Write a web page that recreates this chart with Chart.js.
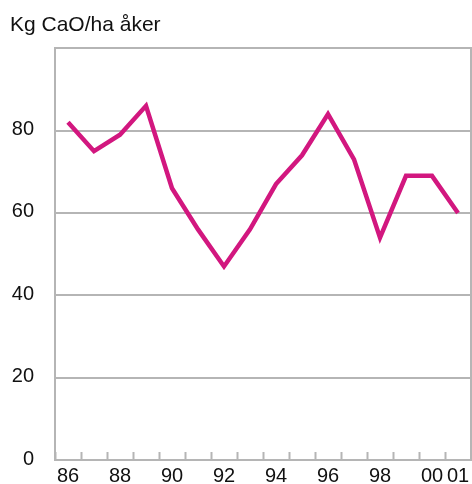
<!DOCTYPE html>
<html>
<head>
<meta charset="utf-8">
<script src="https://cdn.jsdelivr.net/npm/chart.js@4/dist/chart.umd.min.js"></script>
<style>
  html, body { margin: 0; padding: 0; background: #fff; }
  #wrap { width: 472px; height: 484px; }
</style>
</head>
<body>
<div id="wrap"><canvas id="limeChart"></canvas></div>
<script>
// Kalk, kg CaO per ha åker, 1986-2001
const years = ['86', '87', '88', '89', '90', '91', '92', '93', '94', '95', '96', '97', '98', '99', '00', '01'];
const shownYears = ['86', '88', '90', '92', '94', '96', '98', '00', '01'];
const kgCaO = [82, 75, 79, 86, 66, 56, 47, 56, 67, 74, 84, 73, 54, 69, 69, 60];
const yTicks = [0, 20, 40, 60, 80, 100];

const gray = '#b5b5b5';
const font = { family: '"Liberation Sans", Arial, Helvetica, sans-serif', size: 20, weight: 'normal' };

const ctx = document.getElementById('limeChart').getContext('2d');
new Chart(ctx, {
    type: 'line',
    data: {
        labels: years,
        datasets: [{
            data: kgCaO,
            borderColor: '#d2177f',
            borderWidth: 4.5,
            pointRadius: 0,
            tension: 0,
            fill: false
        }]
    },
    options: {
        responsive: true,
        maintainAspectRatio: false,
        animation: false,
        layout: { padding: { left: 10, right: 0, top: 0, bottom: 0 } },
        plugins: {
            legend: { display: false },
            tooltip: { enabled: false },
            title: {
                display: true,
                text: 'Kg CaO/ha åker',
                align: 'start',
                color: '#111',
                font: { family: font.family, size: 21, weight: 'normal' },
                padding: { top: 13, bottom: 10 }
            }
        },
        scales: {
            x: {
                offset: true,
                grid: {
                    offset: true,
                    drawOnChartArea: false,
                    drawTicks: true,
                    tickLength: -8,
                    tickWidth: 2,
                    tickColor: gray
                },
                border: { display: true, color: gray, width: 2 },
                ticks: {
                    autoSkip: false,
                    maxRotation: 0,
                    padding: 12.5,
                    color: '#111',
                    font: font,
                    callback: function (value) {
                        const lab = years[value];
                        return shownYears.includes(lab) ? lab : '';
                    }
                },
                afterFit: function (scale) {
                    scale.height = 24;
                    scale.paddingLeft = 0;
                    scale.paddingRight = 0;
                }
            },
            y: {
                min: 0,
                max: 100,
                afterBuildTicks: function (scale) {
                    scale.ticks = yTicks.map(v => ({ value: v }));
                },
                grid: { color: gray, lineWidth: 2, drawTicks: false },
                border: { display: true, color: gray, width: 2 },
                ticks: {
                    padding: 21,
                    color: '#111',
                    font: font,
                    labelOffset: -1,
                    callback: v => (v === 100 ? '' : v)
                },
                afterFit: function (scale) {
                    scale.width = 45;
                    scale.paddingTop = 0;
                    scale.paddingBottom = 0;
                }
            },
            yRight: {
                position: 'right',
                min: 0,
                max: 100,
                grid: { drawOnChartArea: false, drawTicks: false },
                border: { display: true, color: gray, width: 2 },
                ticks: { display: false },
                afterFit: function (scale) { scale.width = 1; }
            }
        }
    }
});
</script>
</body>
</html>
